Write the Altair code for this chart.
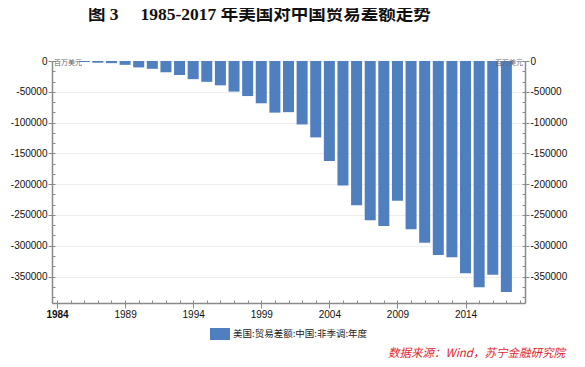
import altair as alt
import pandas as pd

# ---- data (US trade balance with China, million USD) ----
years = list(range(1985, 2018))
balance = [-6, -1665, -2796, -3489, -6234, -10431, -12691, -18309, -22777, -29505,
           -33790, -39520, -49696, -56927, -68677, -83833, -83096, -103065, -124068,
           -162254, -202278, -234101, -258506, -268040, -226877, -273042, -295250,
           -315102, -318684, -344818, -367328, -346997, -375168]
series_name = "美国:贸易差额:中国:非季调:年度"
title_text = "图 3\u00a0\u00a0\u00a0\u00a0\u00a01985-2017 年美国对中国贸易差额走势"
unit_text = "百万美元"
source_text = "数据来源：Wind，苏宁金融研究院"
x_major = [1984, 1989, 1994, 1999, 2004, 2009, 2014]
x_minor = list(range(1984, 2019))
y_major = [0, -50000, -100000, -150000, -200000, -250000, -300000, -350000]
y_minor = [-round(i * 50000 / 3) for i in range(0, 24)]

df = pd.DataFrame({"year": years, "value": balance, "series": [series_name] * len(years)})

BAR = "#4f7fbf"
AX = "#8a8a8a"
LF = "Liberation Sans"
CJK = "Noto Sans CJK SC"

xs = alt.Scale(domain=[1984, 2018], nice=False, zero=False)
ys = alt.Scale(domain=[-393000, 0], nice=False)

base = alt.Chart(df)

bars = base.mark_bar(size=11).encode(
    x=alt.X("year:Q", scale=xs, axis=alt.Axis(
        orient="bottom", values=x_major, format="d", title=None, grid=False,
        tickSize=5, tickColor=AX, domainColor=AX, domainWidth=1.5,
        labelFont=LF, labelFontSize=10, labelColor="#111", labelPadding=1,
        labelFontWeight={"condition": {"test": "datum.value == 1984", "value": "bold"}, "value": "normal"})),
    y=alt.Y("value:Q", scale=ys, axis=alt.Axis(
        orient="left", values=y_major, labelExpr="'' + datum.value", title=None,
        grid=True, gridColor="#eeeeee", gridWidth=1,
        tickSize=4, tickColor=AX, domainColor=AX, domainWidth=1.5,
        labelFont=LF, labelFontSize=10, labelColor="#111", labelPadding=1)),
    color=alt.Color("series:N", scale=alt.Scale(range=[BAR]), legend=alt.Legend(
        orient="none", legendX=158, legendY=263, title=None, padding=0,
        symbolType="M-1,-0.6H1V0.6H-1Z", symbolSize=400, symbolStrokeWidth=0,
        labelFont=CJK, labelFontSize=9.5, labelColor="#222", labelOffset=3)),
)

right_axis = base.mark_bar(size=11, opacity=0).encode(
    x=alt.X("year:Q", scale=xs, axis=None),
    y=alt.Y("value:Q", scale=ys, axis=alt.Axis(
        orient="right", values=y_major, labelExpr="'' + datum.value", title=None,
        grid=False, tickSize=4, tickColor=AX, domainColor=AX, domainWidth=1.5,
        labelFont=LF, labelFontSize=10, labelColor="#111", labelPadding=1)),
)

x_minor_axis = base.mark_bar(size=11, opacity=0).encode(
    x=alt.X("year:Q", scale=xs, axis=alt.Axis(
        orient="top", offset=-242, values=x_minor, labels=False, domain=False,
        grid=False, title=None, tickSize=3, tickColor=AX)),
    y=alt.Y("value:Q", scale=ys, axis=None),
)

y_minor_left = base.mark_bar(size=11, opacity=0).encode(
    x=alt.X("year:Q", scale=xs, axis=None),
    y=alt.Y("value:Q", scale=ys, axis=alt.Axis(
        orient="right", offset=-473, values=y_minor, labels=False, domain=False,
        grid=False, title=None, tickSize=3, tickColor=AX)),
)

y_minor_right = base.mark_bar(size=11, opacity=0).encode(
    x=alt.X("year:Q", scale=xs, axis=None),
    y=alt.Y("value:Q", scale=ys, axis=alt.Axis(
        orient="left", offset=-473, values=y_minor, labels=False, domain=False,
        grid=False, title=None, tickSize=3, tickColor=AX)),
)

title = alt.Chart(pd.DataFrame({"t": [title_text]})).mark_text(
    align="left", baseline="middle", font="Liberation Serif, 'Noto Sans CJK SC'",
    fontSize=17.5, fontWeight="bold", color="#111"
).encode(x=alt.value(36), y=alt.value(-46), text="t:N")

unit_l = alt.Chart(pd.DataFrame({"t": [unit_text]})).mark_text(
    align="left", baseline="middle", font=CJK, fontSize=7, color="#666"
).encode(x=alt.value(2), y=alt.value(2), text="t:N")

unit_r = alt.Chart(pd.DataFrame({"t": [unit_text]})).mark_text(
    align="right", baseline="middle", font=CJK, fontSize=7, color="#666"
).encode(x=alt.value(471), y=alt.value(2), text="t:N")

source = alt.Chart(pd.DataFrame({"t": [source_text]})).mark_text(
    align="right", baseline="middle", font=CJK, fontSize=11.5, fontStyle="italic",
    color="#e0262e"
).encode(x=alt.value(513), y=alt.value(293), text="t:N")

chart = alt.layer(
    bars, right_axis, x_minor_axis, y_minor_left, y_minor_right,
    title, unit_l, unit_r, source
).resolve_axis(x="independent", y="independent").properties(
    width=473, height=242,
    autosize=alt.AutoSizeParams(type="none"),
    padding={"left": 44, "top": 53, "right": 52, "bottom": 56},
).configure_view(stroke=None).configure(background="white")

chart.save("out.html", embed_options={"renderer": "svg", "actions": False})
